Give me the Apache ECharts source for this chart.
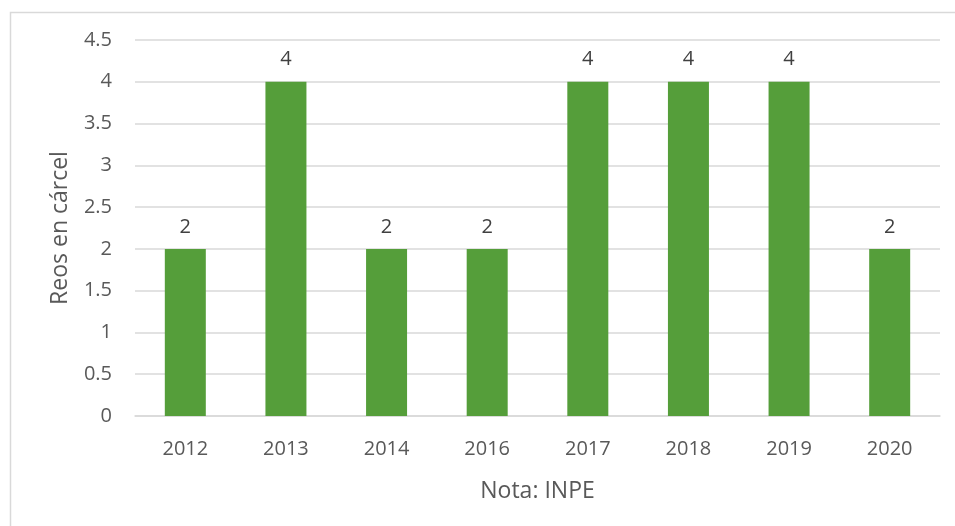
<!DOCTYPE html>
<html>
<head>
<meta charset="utf-8">
<script src="https://cdn.jsdelivr.net/npm/echarts@6/dist/echarts.min.js"></script>
<style>
  html, body { margin: 0; padding: 0; background: #ffffff; }
  #chart { width: 955px; height: 526px; }
</style>
</head>
<body>
<div id="chart"></div>
<script>
// Years shown on the category axis
const years = ['2012', '2013', '2014', '2016', '2017', '2018', '2019', '2020'];
// Number of defendants in prison per year
const reos = [2, 4, 2, 2, 4, 4, 4, 2];
// Value axis ticks
const yTicks = [0, 0.5, 1, 1.5, 2, 2.5, 3, 3.5, 4, 4.5];

const FONT = '"Open Sans", "Noto Sans", sans-serif';
const TXT = '#595959';

const chart = echarts.init(document.getElementById('chart'), null, { renderer: 'canvas' });

chart.setOption({
  animation: false,
  backgroundColor: '#ffffff',
  graphic: [{
    type: 'rect',
    left: 8, top: 10,
    shape: { width: 970, height: 540 },
    style: { fill: 'none', stroke: '#d9d9d9', lineWidth: 1.5 },
    silent: true
  }],
  grid: { left: 135, right: 15, top: 40, bottom: 110, containLabel: false },
  xAxis: {
    type: 'category',
    data: years,
    name: 'Nota: INPE',
    nameLocation: 'middle',
    nameGap: 64,
    nameTextStyle: { color: TXT, fontFamily: FONT, fontSize: 23 },
    axisTick: { show: false },
    axisLine: { lineStyle: { color: '#d9d9d9', width: 1.5 } },
    axisLabel: { color: TXT, fontFamily: FONT, fontSize: 20, margin: 23 }
  },
  yAxis: {
    type: 'value',
    min: yTicks[0],
    max: yTicks[yTicks.length - 1],
    interval: 0.5,
    name: 'Reos en cárcel',
    nameLocation: 'middle',
    nameGap: 63,
    nameTextStyle: { color: TXT, fontFamily: FONT, fontSize: 23 },
    axisLine: { show: false },
    axisTick: { show: false },
    splitLine: { lineStyle: { color: '#d9d9d9', width: 1.5 } },
    axisLabel: { color: TXT, fontFamily: FONT, fontSize: 20, margin: 23 }
  },
  series: [{
    type: 'bar',
    data: reos,
    barWidth: 41,
    itemStyle: { color: '#559E3A' },
    label: {
      show: true,
      position: 'top',
      distance: 12,
      color: '#404040',
      fontFamily: FONT,
      fontSize: 20
    }
  }]
});
</script>
</body>
</html>
